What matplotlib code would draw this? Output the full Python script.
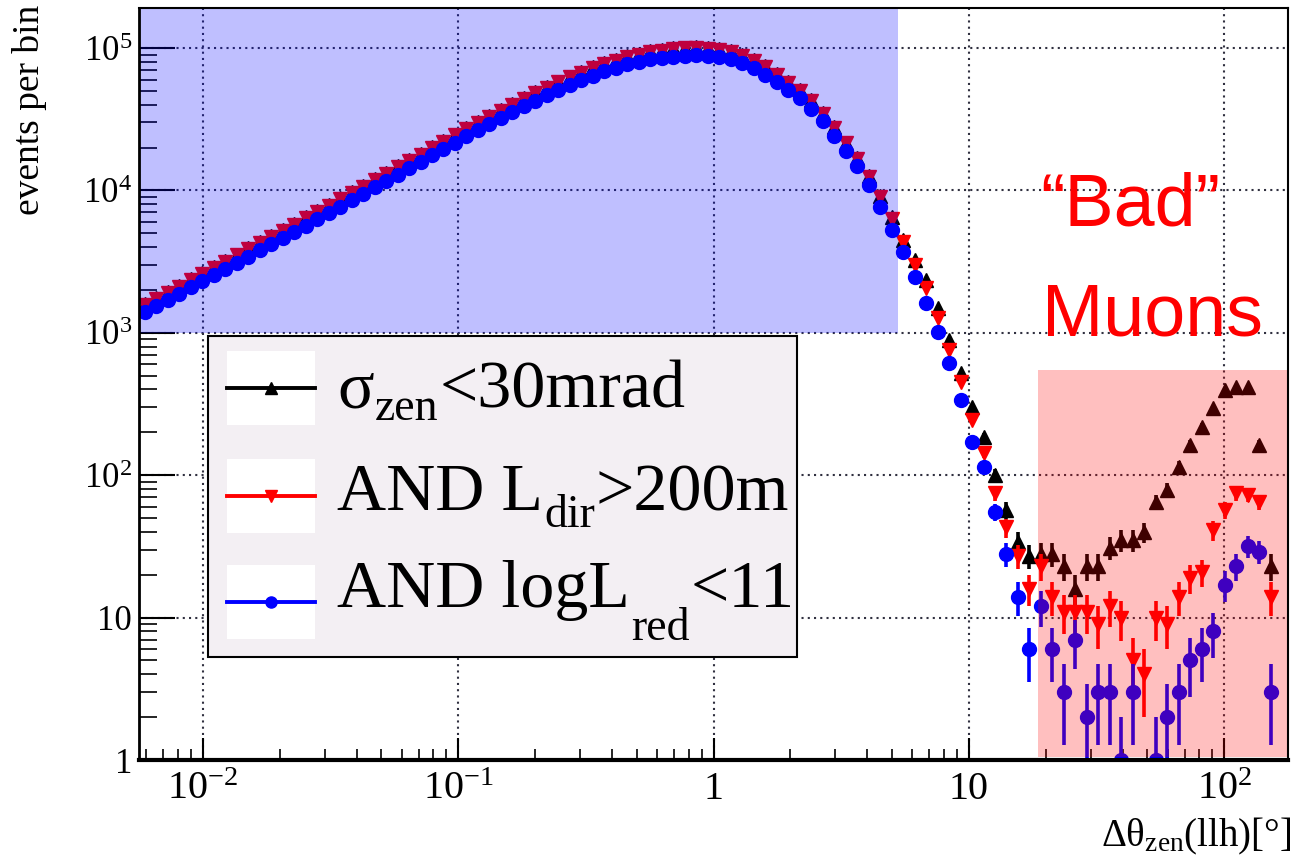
import numpy as np
import matplotlib
matplotlib.use("Agg")
import matplotlib.pyplot as plt
from matplotlib.patches import Rectangle
from matplotlib.lines import Line2D
from matplotlib.ticker import FixedLocator, FixedFormatter, LogLocator, NullFormatter

plt.rcParams["font.family"] = ["Liberation Serif", "DejaVu Serif"]
plt.rcParams["mathtext.fontset"] = "custom"
plt.rcParams["mathtext.rm"] = "Liberation Serif"
plt.rcParams["mathtext.it"] = "Liberation Serif:italic"
plt.rcParams["mathtext.bf"] = "Liberation Serif:bold"

# Histogram binning: 100 log-spaced bins in delta-theta_zen [deg]
LOG_LO, LOG_HI, N_BINS = -2.25, 2.25, 100

# events per bin after each cut stage
counts_sigma = [
    1590, 1756, 1943, 2145, 2374, 2621, 2901, 3202, 3543, 3913,
    4330, 4781, 5290, 5840, 6464, 7153, 7915, 8780, 9738, 10801,
    11980, 13288, 14739, 16347, 18133, 20112, 22309, 24687, 27319, 30232,
    33455, 36853, 40501, 44511, 48805, 53391, 58139, 63018, 67993, 73024,
    78067, 82883, 87390, 91299, 94725, 97379, 99418, 100802, 101267, 100569,
    98734, 94725, 89427, 82124, 74211, 65836, 58005, 50871, 42803, 34791,
    27699, 21701, 16884, 12600, 9120, 6460, 4490, 3240, 2350, 1490,
    890, 522, 301, 185, 100, 57, 34, 27, 28, 28,
    23, 16, 23, 23, 31, 35, 35, 40, 65, 79,
    115, 163, 219, 295, 396, 418, 418, 163, 23, 0,
]
counts_ldir = [
    1567, 1730, 1914, 2113, 2339, 2582, 2858, 3155, 3491, 3855,
    4266, 4710, 5212, 5754, 6368, 7047, 7798, 8650, 9594, 10641,
    11803, 13092, 14521, 16106, 17865, 19815, 21979, 24322, 26915, 29785,
    32961, 36308, 39902, 43853, 48084, 52602, 57280, 62087, 66988, 71945,
    76913, 81658, 86099, 89950, 93325, 95940, 97949, 99312, 99770, 99083,
    97275, 93325, 88105, 80910, 73114, 64863, 57148, 50119, 42170, 34277,
    27290, 21380, 16634, 12417, 8995, 6310, 4315, 2992, 2065, 1271,
    757, 451, 244, 143, 75, 43, 27, 16, 23, 14,
    11, 11, 11, 9, 12, 10, 5, 4, 10, 9,
    14, 19, 21, 41, 57, 75, 73, 65, 14, 0,
]
counts_llh = [
    1395, 1540, 1703, 1881, 2082, 2298, 2544, 2808, 3107, 3431,
    3797, 4192, 4639, 5121, 5668, 6272, 6940, 7699, 8539, 9470,
    10505, 11652, 12924, 14334, 15900, 17635, 19561, 21647, 23954, 26509,
    29335, 32314, 35513, 39029, 42795, 46816, 50979, 55257, 59619, 64031,
    68453, 72676, 76628, 80056, 83059, 85387, 87175, 88388, 88795, 88184,
    86575, 83059, 78413, 72010, 65071, 57728, 50862, 44606, 37531, 30506,
    24288, 19028, 14804, 10839, 7638, 5272, 3673, 2466, 1618, 1014,
    614, 337, 171, 114, 55, 28, 14, 6, 12, 6,
    3, 7, 2, 3, 3, 1, 3, 0, 1, 2,
    3, 5, 6, 8, 17, 23, 32, 29, 3, 0,
]

# legend entries: (main text, subscript, trailing text)
series_labels = [
    ("σ", "zen", "<30mrad"),
    ("AND L", "dir", ">200m"),
    ("AND logL", "red", "<11"),
]
series_colors = ["#000000", "#ff0000", "#0000ff"]
series_markers = ["^", "v", "o"]

x_tick_values = [1e-2, 1e-1, 1, 10, 1e2]
x_tick_labels = ["10$^{-2}$", "10$^{-1}$", "1", "10", "10$^{2}$"]
y_tick_values = [1, 10, 1e2, 1e3, 1e4, 1e5]
y_tick_labels = ["1", "10", "10$^{2}$", "10$^{3}$", "10$^{4}$", "10$^{5}$"]

edges = np.logspace(LOG_LO, LOG_HI, N_BINS + 1)
centers = np.sqrt(edges[:-1] * edges[1:])
Y_MAX = 1.91e5

fig = plt.figure(figsize=(12.93, 8.55), dpi=100)
W, H = 1293.0, 855.0
ax = fig.add_axes([139 / W, 95 / H, 1149 / W, 752 / H])
ax.set_xscale("log")
ax.set_yscale("log")
ax.set_xlim(edges[0], edges[-1])
ax.set_ylim(1, Y_MAX)

# data points with Poisson error bars
for counts, color, marker, z in zip(
    [counts_sigma, counts_ldir, counts_llh], series_colors, series_markers, [3, 3.1, 3.2]
):
    n = np.asarray(counts, dtype=float)
    m = n > 0
    err = np.sqrt(n[m])
    lo = np.minimum(err, n[m] * 0.999)
    ms = 10 if marker == "o" else 9.5
    ax.errorbar(
        centers[m], n[m], yerr=[lo, err], fmt=marker, color=color, mec=color,
        mfc=color, ms=ms, elinewidth=2.6, capsize=0, zorder=z,
    )

# shaded regions: well reconstructed core and the "bad" tail
ax.add_patch(Rectangle((edges[0], 1e3), 5.3 - edges[0], Y_MAX - 1e3,
                       facecolor=(0, 0, 1, 0.25), edgecolor="none", zorder=5))
ax.add_patch(Rectangle((18.6, 1.05), edges[-1] - 18.6, 550 - 1.05,
                       facecolor=(1, 0, 0, 0.25), edgecolor="none", zorder=5))

# grid & axes styling
ax.grid(True, which="major", linestyle=(0, (1, 2)), color="#303040", linewidth=1.5, zorder=1)
ax.xaxis.set_major_locator(FixedLocator(x_tick_values))
ax.xaxis.set_major_formatter(FixedFormatter(x_tick_labels))
ax.xaxis.set_minor_locator(LogLocator(base=10, subs=np.arange(2, 10), numticks=20))
ax.xaxis.set_minor_formatter(NullFormatter())
ax.yaxis.set_major_locator(FixedLocator(y_tick_values))
ax.yaxis.set_major_formatter(FixedFormatter(y_tick_labels))
ax.yaxis.set_minor_locator(LogLocator(base=10, subs=np.arange(2, 10), numticks=20))
ax.yaxis.set_minor_formatter(NullFormatter())

ax.tick_params(axis="x", which="major", direction="in", length=16, width=1.5,
               labelsize=29, pad=8, top=False)
ax.tick_params(axis="x", which="minor", direction="in", length=8, width=1.2, top=False)
ax.tick_params(axis="y", which="major", direction="in", length=26, width=1.5,
               labelsize=25, pad=5, right=False)
ax.tick_params(axis="y", which="minor", direction="in", length=13, width=1.2, right=False)
for name, lw in [("left", 2), ("bottom", 3), ("top", 1.5), ("right", 1.5)]:
    ax.spines[name].set_linewidth(lw)
    ax.spines[name].set_color("black")
    ax.spines[name].set_zorder(6)

# legend box
def fx(px):
    return (px - 139) / 1149.0

def fy(py):
    return (760 - py) / 752.0

ax.add_patch(Rectangle((fx(208), fy(657)), fx(797) - fx(208), fy(336) - fy(657),
                       transform=ax.transAxes, facecolor="#f3eff3", edgecolor="black",
                       linewidth=1.5, zorder=10))
row_centers = [388, 496, 602]
row_baselines = [407, 510, 607]
sub_drops = [13, 17, 33]
LEG_FS, SUB_FS = 49, 33
renderer = fig.canvas.get_renderer()
for (main, sub, tail), color, marker, yc, yb, drop in zip(
        series_labels, series_colors, series_markers, row_centers, row_baselines, sub_drops):
    ax.add_patch(Rectangle((fx(227), fy(yc + 37)), fx(315) - fx(227), fy(yc - 37) - fy(yc + 37),
                           transform=ax.transAxes, facecolor="white", edgecolor="none", zorder=11))
    ax.add_line(Line2D([fx(227), fx(315)], [fy(yc), fy(yc)], transform=ax.transAxes,
                       color=color, linewidth=2.8, zorder=12))
    ax.add_line(Line2D([fx(271)], [fy(yc)], transform=ax.transAxes, marker=marker,
                       color=color, ms=8, linestyle="none", zorder=13))
    t1 = ax.text(fx(337), fy(yb), main, transform=ax.transAxes, fontsize=LEG_FS,
                 ha="left", va="baseline", zorder=13)
    x1 = t1.get_window_extent(renderer).x1
    xa = ax.transAxes.inverted().transform((x1 + 1, 0))[0]
    t2 = ax.text(xa, fy(yb + drop), sub, transform=ax.transAxes, fontsize=SUB_FS,
                 ha="left", va="baseline", zorder=13)
    x2 = t2.get_window_extent(renderer).x1
    xb = ax.transAxes.inverted().transform((x2 + 1, 0))[0]
    ax.text(xb, fy(yb), tail, transform=ax.transAxes, fontsize=LEG_FS,
            ha="left", va="baseline", zorder=13)

# annotation of the mis-reconstructed tail
ax.text(fx(1040), fy(226), "\u201cBad\u201d", transform=ax.transAxes, color="#ff0000",
        fontsize=53, family="Liberation Sans", ha="left", va="baseline", zorder=14)
ax.text(fx(1042), fy(335), "Muons", transform=ax.transAxes, color="#ff0000",
        fontsize=53, family="Liberation Sans", ha="left", va="baseline", zorder=14)

# axis titles
fig.text(30 / W, 1 - 5 / H, "events per bin", rotation=90, ha="center", va="top", fontsize=27)
fig.text(1291 / W, (H - 846) / H, "Δθ$_{\\mathrm{zen}}$(llh)[°]", ha="right",
         va="baseline", fontsize=28)

fig.savefig("out.png", dpi=100)
